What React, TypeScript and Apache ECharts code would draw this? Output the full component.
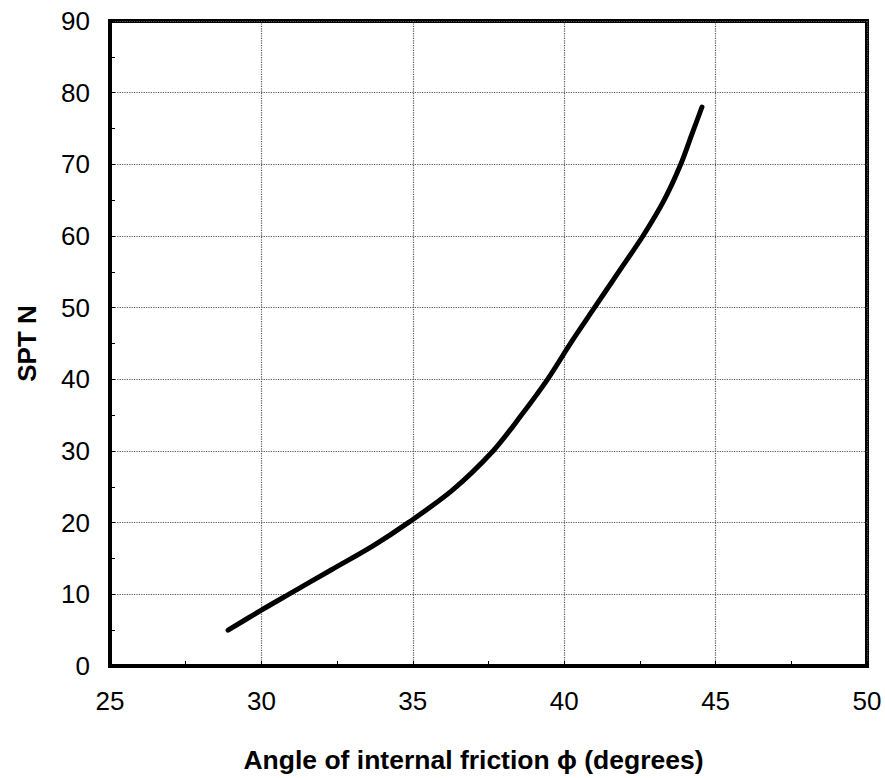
import React, { useEffect, useRef } from "react";
import * as echarts from "echarts";

const phiValues = [28.9, 30.0, 30.9, 32.3, 33.7, 34.85, 36.3, 37.65, 38.55, 39.45, 40.25, 41.0, 41.8, 42.6, 43.3, 43.85, 44.2, 44.55];
const sptValues = [5, 7.8, 10, 13.4, 16.8, 20, 24.5, 30, 34.8, 40, 45.3, 50, 55, 60, 65, 70, 74, 78];

const xTicks = [25, 30, 35, 40, 45, 50];
const yTicks = [0, 10, 20, 30, 40, 50, 60, 70, 80, 90];

const FONT = "'Liberation Sans', Arial, sans-serif";

export default function App() {
  const ref = useRef<HTMLDivElement>(null);
  useEffect(() => {
    document.body.style.margin = "0";
    const chart = echarts.init(ref.current!, null, { renderer: "svg" });
    const data = phiValues.map((p, i) => [p, sptValues[i]]);
    chart.setOption({
      animation: false,
      backgroundColor: "#fff",
      grid: {
        left: 110,
        top: 21,
        right: 18,
        bottom: 112,
        show: true,
        borderColor: "#000",
        borderWidth: 4,
      },
      xAxis: {
        type: "value",
        min: xTicks[0],
        max: xTicks[xTicks.length - 1],
        interval: 5,
        name: "Angle of internal friction \u03D5 (degrees)",
        nameLocation: "middle",
        nameGap: 80,
        nameTextStyle: { fontFamily: FONT, fontWeight: "bold", fontSize: 26.5, color: "#000", padding: [0, 30, 0, 0] },
        axisLine: { show: true, lineStyle: { color: "#000", width: 4 } },
        axisTick: { show: true, inside: true, length: 5, lineStyle: { color: "#000" } },
        minorTick: { show: true, splitNumber: 2, length: 5, lineStyle: { color: "#000" } },
        axisLabel: { fontFamily: FONT, fontSize: 26, color: "#000", margin: 22 },
        splitLine: { show: true, lineStyle: { type: "dotted", color: "#555", width: 1.2 } },
      },
      yAxis: {
        type: "value",
        min: yTicks[0],
        max: yTicks[yTicks.length - 1],
        interval: 10,
        name: "SPT N",
        nameLocation: "middle",
        nameGap: 70,
        nameTextStyle: { fontFamily: FONT, fontWeight: "bold", fontSize: 26, color: "#000" },
        axisLine: { show: true, lineStyle: { color: "#000", width: 4 } },
        axisTick: { show: true, inside: true, length: 5, lineStyle: { color: "#000" } },
        minorTick: { show: true, splitNumber: 2, length: 5, lineStyle: { color: "#000" } },
        axisLabel: { fontFamily: FONT, fontSize: 26, color: "#000", margin: 20 },
        splitLine: { show: true, lineStyle: { type: "dotted", color: "#555", width: 1.2 } },
      },
      series: [
        {
          type: "line",
          data,
          smooth: 0.3,
          showSymbol: false,
          lineStyle: { color: "#000", width: 5, cap: "round" },
        },
      ],
    });
    return () => chart.dispose();
  }, []);
  return <div ref={ref} style={{ width: 885, height: 778 }} />;
}
